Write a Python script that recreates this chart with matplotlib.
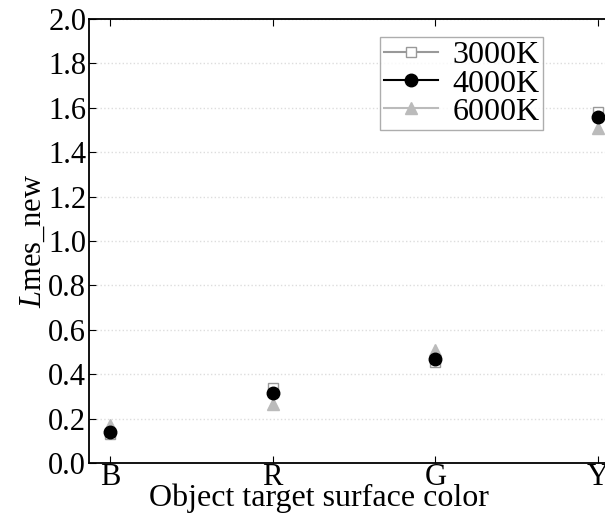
import matplotlib
matplotlib.use("Agg")
import matplotlib.pyplot as plt

# data
categories = ["B", "R", "G", "Y"]
lmes_3000k = [0.13, 0.34, 0.455, 1.58]
lmes_4000k = [0.14, 0.315, 0.47, 1.56]
lmes_6000k = [0.17, 0.265, 0.51, 1.51]
y_ticks = [0.0, 0.2, 0.4, 0.6, 0.8, 1.0, 1.2, 1.4, 1.6, 1.8, 2.0]

plt.rcParams['font.family'] = ['Liberation Serif', 'DejaVu Serif']
plt.rcParams['mathtext.fontset'] = 'custom'
plt.rcParams['mathtext.rm'] = 'Liberation Serif'
plt.rcParams['mathtext.it'] = 'Liberation Serif:italic'

fig = plt.figure(figsize=(6.05, 5.15), dpi=100)
ax = fig.add_axes([0.147, 0.101, 0.873, 0.862])

x = list(range(len(categories)))
ax.plot(x, lmes_3000k, linestyle='none', marker='s', markersize=7,
        markerfacecolor='white', markeredgecolor='#999999', color='#999999',
        label='3000K', zorder=3)
ax.plot(x, lmes_6000k, linestyle='none', marker='^', markersize=9,
        markerfacecolor='#bbbbbb', markeredgecolor='#bbbbbb', color='#bbbbbb',
        label='6000K', zorder=3)
ax.plot(x, lmes_4000k, linestyle='none', marker='o', markersize=9,
        color='black', label='4000K', zorder=4)

# legend with lines through the markers, in the original order
handles, labels = ax.get_legend_handles_labels()
order = [0, 2, 1]
leg_handles = []
for i in order:
    h = handles[i]
    h2 = plt.Line2D([], [], color=h.get_color(), linestyle='-', linewidth=1.5,
                    marker=h.get_marker(), markersize=h.get_markersize(),
                    markerfacecolor=h.get_markerfacecolor(),
                    markeredgecolor=h.get_markeredgecolor())
    leg_handles.append(h2)
leg = ax.legend(leg_handles, [labels[i] for i in order], loc='upper left',
                bbox_to_anchor=(0.551, 0.959), fontsize=23, frameon=True,
                fancybox=False, handlelength=1.7, handletextpad=0.45,
                borderpad=0.12, labelspacing=-0.04, borderaxespad=0)
leg.get_frame().set_edgecolor('#999999')
leg.get_frame().set_linewidth(1.0)

ax.set_xlim(-0.13, 3.117)
ax.set_ylim(0, 2.0)
ax.set_xticks(x)
ax.set_xticklabels(categories)
ax.set_yticks(y_ticks)
ax.set_yticklabels(["%.1f" % v for v in y_ticks])
ax.tick_params(direction='in', top=True, labelsize=22, length=5, pad=2)
ax.tick_params(axis='x', pad=0)
ax.yaxis.grid(True, linestyle=':', color='#dddddd', linewidth=1)
ax.set_axisbelow(True)
ax.spines['right'].set_visible(False)
for s in ['left', 'bottom', 'top']:
    ax.spines[s].set_linewidth(1.3)

ax.set_xlabel('Object target surface color', fontsize=23)
ax.xaxis.set_label_coords(0.436, -0.047)
ax.set_ylabel('$L$mes_new', fontsize=22, labelpad=0)

fig.savefig('out.png', dpi=100)
